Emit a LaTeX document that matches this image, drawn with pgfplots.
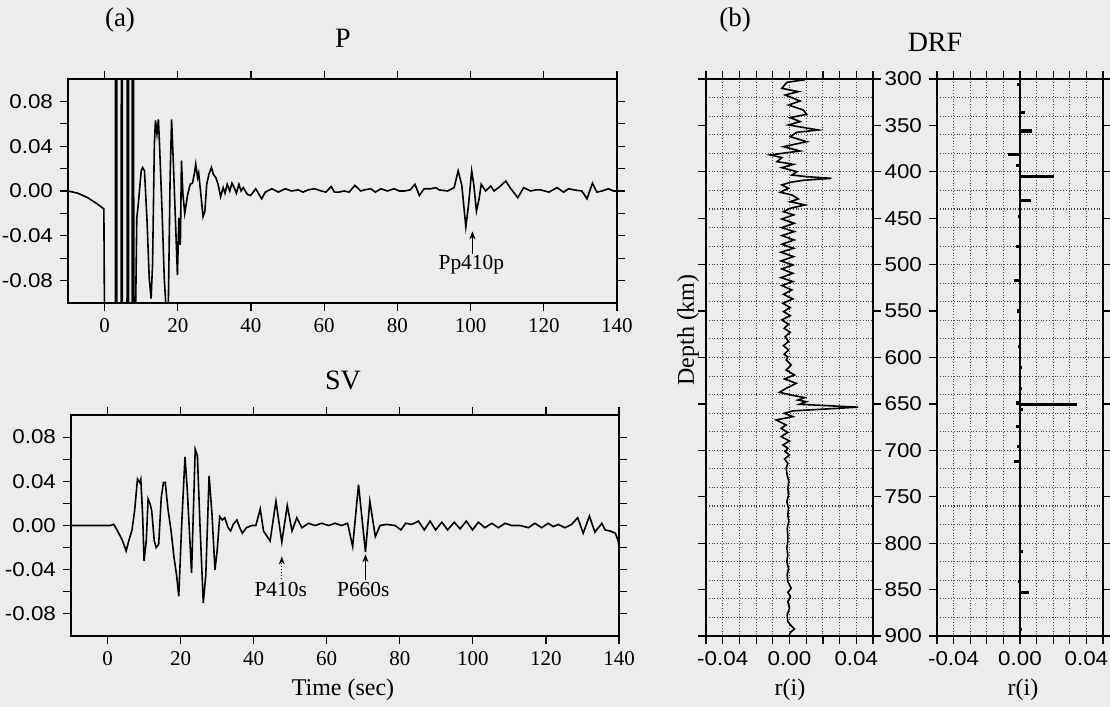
\documentclass[border=0pt]{standalone}
\usepackage{fontspec}
\setmainfont{Liberation Serif}
\newfontfamily\sansf[FakeStretch=1.12]{Liberation Sans}
\usepackage{pgfplots}
\pgfplotsset{compat=1.18}
\usetikzlibrary{arrows.meta}
\definecolor{paper}{RGB}{236,236,234}

\pgfplotsset{
  base/.style={
    scale only axis, anchor=south west,
    tick align=outside, major tick length=4pt, minor tick length=4pt,
    axis line style={line width=0.9pt},
    every tick/.style={black, line width=0.6pt},
    /pgf/number format/assume math mode=true,
    scaled x ticks=false, scaled y ticks=false,
  },
  trace/.style={base,
    xmin=-10, xmax=140, ymin=-0.1, ymax=0.1,
    xtick={0,20,40,60,80,100,120,140},
    ytick={-0.08,-0.06,-0.04,-0.02,0,0.02,0.04,0.06,0.08},
    yticklabels={-0.08,,-0.04,,0.00,,0.04,,0.08},
    y tick label style={font=\sansf\fontsize{10}{10}\selectfont},
    x tick label style={font=\fontsize{10.5}{10.5}\selectfont},
  },
  drf/.style={base,
    width=83.5pt, height=278.5pt,
    xmin=-0.05, xmax=0.05, ymin=300, ymax=900, y dir=reverse,
    xtick={-0.05,-0.04,-0.03,-0.02,-0.01,0,0.01,0.02,0.03,0.04,0.05},
    xticklabels={,-0.04,,,,0.00,,,,0.04,},
    ytick={300,350,...,900},
    minor ytick={320,340,...,880},
    minor tick length=0pt,
    xmajorgrids, yminorgrids,
    grid style={densely dotted, line width=0.55pt, black!75},
    tick label style={font=\sansf\fontsize{10}{10}\selectfont},
  },
}

\begin{document}
\begin{tikzpicture}
\fill[paper] (0,0) rectangle (555pt,353.5pt);
\path[use as bounding box] (0,0) rectangle (555pt,353.5pt);

% P trace
\begin{axis}[trace, at={(34pt,202pt)}, width=274.5pt, height=112pt]
\addplot[line width=0.8pt, black] coordinates {
(-10,0) (-7.3,-0.002) (-4.6,-0.006) (-1.8,-0.012) (-0.2,-0.016) (0.3,-0.3)
(2.9,-0.3) (3.0,0.3) (3.3,0.3) (3.4,-0.3) (4.5,-0.3) (4.6,0.3) (4.8,0.3) (4.9,-0.3)
(6.1,-0.3) (6.2,0.3) (6.5,0.3) (6.6,-0.3) (7.5,-0.3) (7.6,0.3) (7.9,0.3) (8.0,-0.3)
(8.3,-0.15) (8.8,-0.024) (9.2,-0.012) (10.0,0.018) (10.4,0.021) (10.9,0.018)
(11.6,-0.027) (12.2,-0.078) (12.7,-0.096) (13.1,-0.066) (13.6,0.042) (13.9,0.063)
(14.3,0.051) (14.7,0.064) (15.0,0.042) (15.7,-0.018) (16.3,-0.078) (16.8,-0.105)
(17.4,-0.105) (17.9,0.012) (18.3,0.064) (18.8,0.024) (19.5,-0.039) (19.9,-0.075)
(20.3,-0.024) (20.7,-0.048) (21.0,0.027) (21.4,-0.003) (21.9,-0.020) (22.7,-0.003)
(23.4,0.006) (24.0,0.007) (24.5,0.015) (24.9,0.024) (25.4,0.012) (25.7,0.016)
(26.3,-0.003) (26.9,-0.023) (27.4,-0.018) (27.9,0.006) (28.5,0.015) (29.2,0.021)
(29.7,0.015) (30.4,0.012) (31.0,0.006) (31.7,-0.005) (32.4,0.003) (32.9,-0.002)
(33.5,0.006) (34.2,0.000) (34.8,0.007) (35.4,0.003) (36.0,-0.002) (36.7,0.006)
(37.3,0.000) (37.9,0.003) (39.0,-0.003) (39.9,-0.004) (41.3,0.002) (42.9,-0.007)
(43.9,-0.001) (45.7,0.002) (47.5,-0.001) (49.3,0.002) (51.1,0.000) (52.9,0.001)
(54.2,-0.001) (55.6,0.001) (57.4,0.002) (59.2,0.000) (60.5,-0.001) (61.9,0.004)
(62.8,-0.001) (64.0,-0.001) (65.5,0.000) (66.8,-0.001) (68.4,0.005) (70.0,0.000)
(71.0,0.001) (72.7,0.002) (74.0,-0.001) (75.5,0.002) (77.3,0.000) (79.1,0.002)
(80.5,0.000) (81.9,0.000) (83.5,0.001) (84.8,0.006) (86.0,-0.004) (87.3,0.002)
(89.1,0.002) (90.5,0.003) (91.4,0.001) (93.7,0.000) (95.5,0.003) (96.6,0.018)
(97.6,0.005) (98.7,-0.032) (99.4,-0.0135) (100.3,0.018) (100.9,0.005) (101.6,-0.018)
(102.3,-0.0075) (102.9,0.006) (104.1,0.000) (105.5,0.0045) (106.4,0.000) (108.2,0.0045)
(109.6,0.009) (111.0,0.002) (112.9,-0.006) (114.5,0.003) (116.4,0.000) (117.8,0.001)
(119.1,0.001) (121.4,-0.001) (123.6,0.003) (125.4,-0.001) (126.8,0.002) (128.2,0.001)
(130.4,0.000) (131.8,-0.007) (133.3,0.007) (134.5,-0.001) (135.9,0.000) (137.7,0.002)
(139.0,0.000) (140,0.000)
};
\draw[-{Stealth[length=4pt,width=3pt]}, line width=0.5pt] (axis cs:100.5,-0.056) -- (axis cs:100.5,-0.036);
\node[font=\fontsize{10.7}{10.7}\selectfont] at (axis cs:100.2,-0.066) {Pp410p};
\end{axis}

% SV trace
\begin{axis}[trace, at={(35.5pt,35.5pt)}, width=274pt, height=110.5pt]
\addplot[line width=0.8pt, black] coordinates {
(-10,0) (0.8,0.000) (1.7,0.001) (2.6,-0.004) (4.0,-0.013) (5.1,-0.023) (5.8,-0.014)
(6.7,-0.004) (7.4,0.013) (8.2,0.042) (8.8,0.039) (9.1,0.042) (9.6,0.010) (10.0,-0.032)
(10.6,-0.014) (11.1,0.024) (11.7,0.019) (12.1,0.013) (12.8,-0.014) (13.3,-0.020)
(14.0,-0.017) (14.7,0.025) (15.3,0.039) (15.8,0.039) (16.5,0.016) (17.4,-0.005)
(18.2,-0.029) (18.9,-0.045) (19.5,-0.064) (20.3,0.001) (21.2,0.062) (21.8,0.034)
(23.0,-0.043) (24.0,0.069) (24.6,0.063) (25.3,0.001) (26.2,-0.070) (26.9,-0.045)
(27.8,0.045) (28.6,0.010) (29.4,-0.040) (30.0,-0.023) (30.7,0.008) (31.4,0.005)
(32.1,0.007) (33.0,-0.002) (33.7,-0.005) (34.4,0.001) (35.4,0.005) (36.2,-0.002)
(36.9,-0.007) (38.0,-0.002) (39.5,0.000) (40.6,0.000) (41.8,0.015) (42.7,-0.005)
(44.5,-0.014) (46.1,0.022) (47.7,-0.015) (49.2,0.018) (50.5,-0.005) (51.8,0.007)
(53.2,-0.002) (55.0,0.002) (56.8,0.000) (58.6,0.002) (60.5,0.000) (62.3,0.002)
(64.1,0.000) (65.7,0.002) (67.1,-0.019) (68.7,0.037) (70.6,-0.024) (71.8,0.022)
(73.3,-0.010) (74.6,0.000) (76.4,0.001) (78.7,0.000) (80.3,-0.004) (81.6,0.002)
(83.3,0.001) (85.1,0.004) (86.7,-0.004) (88.3,0.004) (89.8,-0.004) (91.5,0.003)
(93.1,-0.004) (94.9,0.003) (96.5,-0.003) (98.2,0.004) (99.9,-0.004) (101.5,0.003)
(103.3,-0.002) (105.2,0.002) (107.0,-0.002) (108.8,0.002) (110.6,0.000) (112.9,0.000)
(115.2,-0.002) (117.0,0.002) (118.8,-0.002) (120.6,0.002) (122.0,-0.001) (123.4,0.001)
(125.2,-0.002) (127.0,0.001) (128.7,0.007) (130.2,-0.007) (131.9,0.0085) (133.4,-0.006)
(135.3,0.002) (136.2,-0.004) (137.6,-0.005) (139.0,-0.007) (139.8,-0.014) (140,-0.02)
};
\draw[-{Stealth[length=4pt,width=3pt]}, line width=0.5pt, densely dotted] (axis cs:47.7,-0.048) -- (axis cs:47.7,-0.028);
\node[font=\fontsize{10.7}{10.7}\selectfont] at (axis cs:47.4,-0.058) {P410s};
\draw[-{Stealth[length=4pt,width=3pt]}, line width=0.5pt] (axis cs:70.6,-0.049) -- (axis cs:70.6,-0.026);
\node[font=\fontsize{10.7}{10.7}\selectfont] at (axis cs:70.0,-0.058) {P660s};
\end{axis}

% DRF, continuous
\begin{axis}[drf, at={(353pt,35.5pt)}, yticklabels={}]
\addplot[line width=0.8pt, black] coordinates {
(0.0093,300.7) (-0.0016,303.6) (-0.0046,310.1) (0.0053,313.6) (-0.0026,317.2)
(0.0063,323.7) (-0.0006,328.0) (0.0083,333.4) (0.0103,338.0) (0.0004,341.6)
(0.0063,345.9) (-0.0006,349.5) (0.0172,354.9) (0.0044,357.4) (0.0004,362.1)
(0.0103,367.5) (-0.0036,372.9) (0.0063,377.5) (-0.0115,381.8) (-0.0046,384.7)
(-0.0075,389.0) (0.0024,391.9) (-0.0046,395.5) (0.0044,399.8) (0.0014,403.4)
(0.0103,405.2) (0.0251,407.0) (0.0083,409.1) (0.0004,411.3) (-0.0046,414.1)
(-0.0006,417.7) (-0.0055,422.0) (0.0014,424.9) (0.0053,429.2) (0.0004,432.1)
(0.0093,435.7) (0.0004,439.3) (-0.0036,442.9) (0.0024,446.4) (-0.0046,450.8)
(0.0028,455.4) (-0.0046,460.1) (0.0028,464.4) (-0.0046,468.7) (0.0028,473.4)
(-0.0046,478.0) (0.0024,482.3) (-0.0051,486.6) (0.0024,491.3) (-0.0051,496.0)
(0.0020,500.3) (-0.0046,504.6) (0.0020,509.3) (-0.0051,513.9) (0.0020,518.2)
(-0.0046,522.5) (0.0014,527.2) (-0.0036,531.9) (0.0020,536.9) (-0.0040,541.6)
(0.0004,546.2) (-0.0036,550.5) (0.0004,554.8) (-0.0046,559.5) (-0.0006,564.2)
(-0.0032,568.5) (0.0004,572.8) (-0.0026,577.5) (-0.0006,582.8) (-0.0036,587.2)
(-0.0006,591.8) (-0.0032,596.5) (-0.0010,599.5) (-0.0020,602.7) (0.0010,608.1)
(-0.0020,613.5) (0.0030,618.8) (-0.0030,623.1) (0.0040,627.8) (-0.0020,633.2)
(-0.0060,637.5) (0.0010,640.4) (0.0090,643.2) (0.0050,645.8) (0.0100,647.6)
(0.0060,650.4) (0.0410,653.5) (0.0020,657.5) (-0.0030,660.1) (0.0020,663.7)
(-0.0080,667.3) (-0.0020,672.7) (-0.0050,676.3) (-0.0010,680.6) (-0.0050,685.2)
(0.0000,689.9) (-0.0040,694.2) (-0.0010,697.8) (-0.0026,701.4) (0.0000,705.0)
(-0.0030,709.3) (-0.0010,714.0) (-0.0020,719.3) (-0.0014,726.5) (-0.0004,733.7)
(-0.0010,740.9) (-0.0006,748.1) (-0.0016,755.2) (-0.0006,762.4) (-0.0010,769.6)
(-0.0004,776.8) (-0.0014,784.0) (-0.0010,791.1) (-0.0010,798.3) (-0.0016,805.5)
(-0.0010,812.7) (-0.0016,819.8) (-0.0006,827.0) (-0.0014,834.2) (-0.0010,841.4)
(0.0010,848.6) (-0.0010,852.9) (0.0006,857.5) (-0.0010,862.9) (0.0000,870.1)
(-0.0014,877.3) (-0.0010,884.5) (0.0010,888.8) (0.0030,892.4) (0.0006,896.0)
(-0.0004,900)
};
\end{axis}

% DRF, spikes
\begin{axis}[drf, at={(468.5pt,35.5pt)}, width=83pt]
\addplot[line width=1.1pt, black] coordinates {(0,300) (0,900)};
\addplot[xcomb, line width=1.6pt, black] coordinates {
(-0.0020,306) (0.0030,336) (0.0070,356) (-0.0074,381) (-0.0024,393) (0.0206,405)
(0.0064,431) (-0.0010,448) (-0.0026,480) (-0.0036,517) (-0.0020,550) (-0.0010,588)
(0.0014,611) (0.0010,633) (-0.0024,649) (0.0343,651) (0.0020,656) (-0.0024,674)
(-0.0020,696) (-0.0034,712) (0.0020,809) (-0.0010,841) (0.0055,853) (0.0015,893)
};
\end{axis}

% titles and labels
\node[font=\fontsize{13.5}{13.5}\selectfont] at (60pt,343.5pt) {(a)};
\node[font=\fontsize{13.5}{13.5}\selectfont] at (367.5pt,343.5pt) {(b)};
\node[font=\fontsize{14}{14}\selectfont] at (171.5pt,334.5pt) {P};
\node[font=\fontsize{14}{14}\selectfont] at (171.5pt,163.5pt) {SV};
\node[font=\fontsize{14}{14}\selectfont] at (467.5pt,332.5pt) {DRF};
\node[font=\fontsize{12}{12}\selectfont, rotate=90] at (344pt,188.5pt) {Depth (km)};
\node[font=\fontsize{12}{12}\selectfont] at (171.5pt,8.5pt) {Time (sec)};
\node[font=\fontsize{12}{12}\selectfont] at (395pt,8.5pt) {r(i)};
\node[font=\fontsize{12}{12}\selectfont] at (511.5pt,8.5pt) {r(i)};
\end{tikzpicture}
\end{document}
